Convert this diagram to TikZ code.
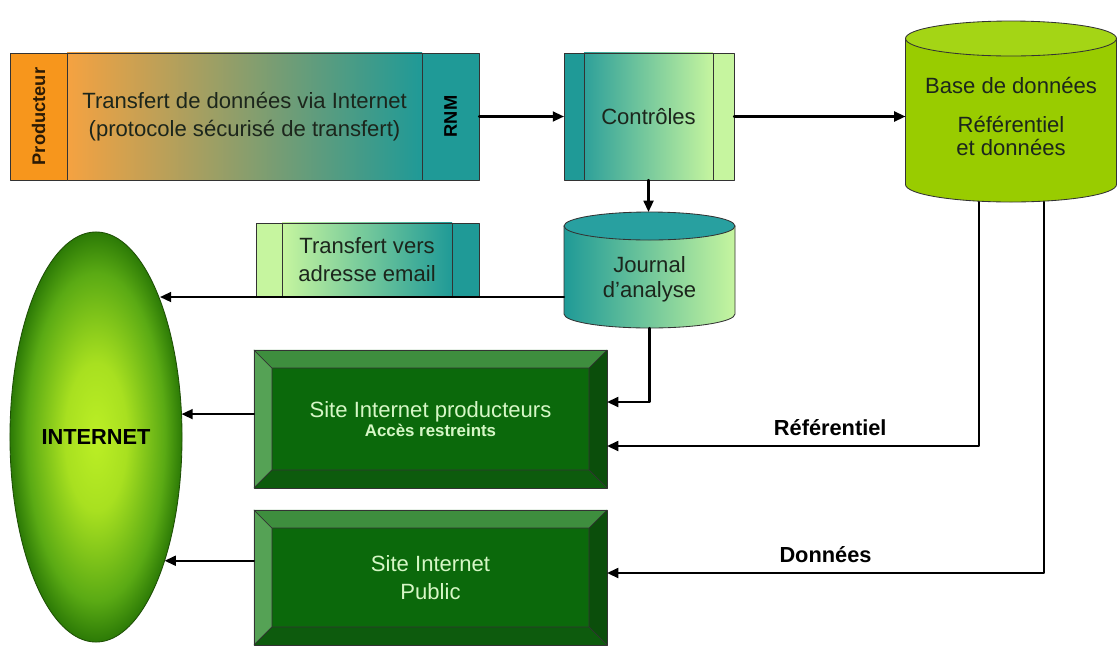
\documentclass[tikz,border=0pt]{standalone}
\usepackage{fontspec}
\setmainfont{Liberation Sans}
\usetikzlibrary{positioning,calc,shapes.geometric,arrows.meta}

\definecolor{prodorange}{HTML}{F7961C}
\definecolor{lightorange}{HTML}{F5A241}
\definecolor{boxteal}{HTML}{1F9A97}
\definecolor{midteal}{HTML}{2EA09A}
\definecolor{lightlime}{HTML}{C6F59F}
\definecolor{jtop}{HTML}{28A0A0}
\definecolor{dbgreen}{HTML}{99CC00}
\definecolor{dbtop}{HTML}{A4D515}
\definecolor{sitegreen}{HTML}{0B690B}
\definecolor{bevtop}{HTML}{3E8E3E}
\definecolor{bevleft}{HTML}{55A255}
\definecolor{bevright}{HTML}{0B4E0B}
\definecolor{bevbot}{HTML}{0D5B0D}
\definecolor{sitetext}{HTML}{D6F7C6}
\definecolor{edge}{HTML}{333333}
\definecolor{txtdark}{HTML}{1C261C}
\definecolor{prodtext}{HTML}{2B1A05}
\definecolor{inetlight}{HTML}{BCEF25}
\definecolor{inetlight2}{HTML}{A8E020}
\definecolor{inetmid}{HTML}{5AAA14}
\definecolor{inetdark}{HTML}{2C7A06}
\definecolor{inetedge}{HTML}{1E4F05}
\pgfdeclareradialshading{inetshade}{\pgfpoint{0bp}{0bp}}{color(0bp)=(inetlight); color(9bp)=(inetlight2); color(20bp)=(inetmid); color(25bp)=(inetdark); color(50bp)=(inetdark)}

\begin{document}
\begin{tikzpicture}[x=0.025cm, y=-0.025cm, line cap=round, line join=round,
  >={Triangle[length=8pt,width=7pt]},
  txt/.style={font=\fontsize{15.7}{20}\selectfont, text=txtdark, align=center, inner sep=0pt, outer sep=0pt},
  box/.style={txt, draw=edge, line width=0.6pt, minimum height=3.175cm},
  strip/.style={box, font=\fontsize{13}{15}\selectfont\bfseries},
  lbl/.style={txt, font=\fontsize{15.5}{18}\selectfont\bfseries, text=black},
  site/.style={txt, text=sitetext, minimum width=8.825cm, draw=edge, line width=0.6pt, fill=sitegreen,
    path picture={
      \path (path picture bounding box.north west) coordinate (bnw)
            (path picture bounding box.south east) coordinate (bse)
            ([shift={(0.45cm,-0.45cm)}]bnw) coordinate (inw)
            ([shift={(-0.45cm,0.45cm)}]bse) coordinate (ise);
      \fill[bevtop] (bnw) -- (bnw -| bse) -- (inw -| ise) -- (inw) -- cycle;
      \fill[bevleft] (bnw) -- (inw) -- (inw |- ise) -- (bnw |- bse) -- cycle;
      \fill[bevright] (bnw -| bse) -- (bse) -- (ise) -- (inw -| ise) -- cycle;
      \fill[bevbot] (bnw |- bse) -- (inw |- ise) -- (ise) -- (bse) -- cycle;
      \draw[edge, line width=0.5pt] (inw) rectangle (ise) (bnw) -- (inw) (bnw -| bse) -- (inw -| ise)
            (bse) -- (ise) (bnw |- bse) -- (inw |- ise);
    }},
  link/.style={->, line width=1.6pt}]
  \useasboundingbox (0,0) rectangle (1118,646);

  % cylindres
  \shade[draw=edge, line width=0.6pt, left color=boxteal, right color=lightlime]
    (564,226) -- (564,314) arc[start angle=180, end angle=0, x radius=85.5, y radius=14] -- (735,226) -- cycle;
  \filldraw[draw=edge, line width=0.6pt, fill=jtop] (649.5,226) ellipse[x radius=85.5, y radius=14];
  \filldraw[draw=edge, line width=0.6pt, fill=dbgreen]
    (905.5,38.5) -- (905.5,184.5) arc[start angle=180, end angle=0, x radius=105.5, y radius=17.5] -- (1116.5,38.5) -- cycle;
  \filldraw[draw=edge, line width=0.6pt, fill=dbtop] (1011,38.5) ellipse[x radius=105.5, y radius=17.5];

  % transfert
  \node[strip, fill=prodorange, text=prodtext, minimum width=1.425cm] (prod) at (38.5,116.5) {\rotatebox{90}{Producteur}};
  \node[box, left color=lightorange, right color=boxteal, minimum width=8.875cm, right=0pt of prod] (transfert)
    {Transfert de données via Internet\\(protocole sécurisé de transfert)};
  \node[strip, fill=boxteal, text=black, minimum width=1.425cm, right=0pt of transfert] (rnm) {\rotatebox{90}{RNM}};

  % controles
  \node[box, fill=boxteal, minimum width=0.5cm] (ctrlL) at (574,116.5) {};
  \node[box, left color=midteal, right color=lightlime, minimum width=3.225cm, right=0pt of ctrlL] (ctrl) {Contrôles};
  \node[box, fill=lightlime, minimum width=0.525cm, right=0pt of ctrl] (ctrlR) {};

  \node[txt, minimum width=5.275cm, minimum height=4.275cm] (db) at (1011,116.5)
    {Base de données\\[8pt]Référentiel\\[-3.5pt]et données};
  \node[txt, minimum width=4.275cm, minimum height=2.9cm] (journal) at (649.5,270) {};
  \node[txt] (journaltext) at ($(journal)+(0,9.5)$) {Journal\\[-2.2pt]d’analyse};

  % email
  \node[box, fill=lightlime, minimum width=0.65cm, minimum height=1.85cm] (emailL) at (269,260) {};
  \node[box, left color=lightlime, right color=boxteal, minimum width=4.25cm, minimum height=1.85cm, right=0pt of emailL] (email)
    {Transfert vers\\adresse email};
  \node[box, fill=boxteal, minimum width=0.675cm, minimum height=1.85cm, right=0pt of email] (emailR) {};

  \node[txt, ellipse, shade, shading=inetshade, draw=inetedge, line width=0.6pt, minimum width=4.3cm, minimum height=10.25cm,
    font=\fontsize{15.5}{18}\selectfont\bfseries, text=black] (internet) at (96,437) {INTERNET};

  \node[site, minimum height=3.45cm] (site1) at (430.5,419)
    {Site Internet producteurs\\[-6pt]{\fontsize{12}{14}\selectfont\bfseries Accès restreints}};
  \node[site, minimum height=3.375cm] (site2) at (430.5,577.5) {Site Internet\\Public};

  % liens
  \draw[link] (rnm) -- (ctrlL);
  \draw[link] (ctrlR) -- (db);
  \draw[link] (ctrl.south) -- (ctrl.south |- journal.north);
  \draw[link] (journal.west |- email.south) -- (internet.65.8 |- email.south);
  \draw[link] (journal.south) |- ($(site1.east)+(0,-17)$);
  \draw[link] ($(db.south)+(-32,0)$) |- node[pos=0.7, above=7pt, lbl] {Référentiel} ($(site1.east)+(0,27)$);
  \draw[link] ($(db.south)+(33,0)$) |- node[pos=0.75, above=7pt, lbl] {Données} ($(site2.east)+(0,-4.5)$);
  \draw[link] (site1.west |- internet.15.7) -- (internet.15.7);
  \draw[link] (site2.west |- internet.-61.7) -- (internet.-61.7);
\end{tikzpicture}
\end{document}
